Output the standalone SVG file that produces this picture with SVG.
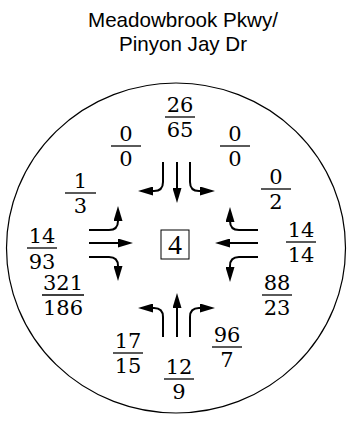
<svg xmlns="http://www.w3.org/2000/svg" width="350" height="425" viewBox="0 0 350 425">
<style>
.title{font-family:"Liberation Sans",Arial,sans-serif;font-size:20.6px;text-anchor:middle;fill:#000}
.num{font-family:"DejaVu Serif","Liberation Serif",serif;font-size:21px;text-anchor:middle;fill:#000}
.big{font-family:"Liberation Serif","Times New Roman",serif;font-size:28px;text-anchor:middle;fill:#000}
.bar{stroke:#000;stroke-width:1.3;fill:none}
.arr{stroke:#000;stroke-width:2;fill:none;marker-end:url(#ah)}
</style>
<defs>
<marker id="ah" viewBox="0 0 15 9" refX="3" refY="4.5" markerWidth="15" markerHeight="9" markerUnits="userSpaceOnUse" orient="auto">
<path d="M0,0 L15,4.5 L0,9 z" fill="#000"/>
</marker>
</defs>
<rect width="350" height="425" fill="#fff"/>
<g id="title">
<text class="title" x="183" y="27">Meadowbrook Pkwy/</text>
<text class="title" x="183" y="51">Pinyon Jay Dr</text>
</g>
<g id="boundary">
<ellipse cx="176" cy="248" rx="169.5" ry="165" fill="none" stroke="#000" stroke-width="1.2"/>
</g>
<g id="center">
<rect x="161" y="230" width="28" height="29" fill="#fff" stroke="#000" stroke-width="1"/>
<text class="big" x="175" y="253.5">4</text>
</g>
<g id="connectors">
<path class="arr" d="M163,162 V182 Q163,191 154,191 H150"/>
<path class="arr" d="M177,162 V191"/>
<path class="arr" d="M190,162 V182 Q190,191 199,191 H203"/>
<path class="arr" d="M163,337 V317 Q163,308 154,308 H150"/>
<path class="arr" d="M177,337 V305"/>
<path class="arr" d="M190,337 V317 Q190,308 199,308 H203"/>
<path class="arr" d="M89,230 H109 Q118,230 118,221 V218"/>
<path class="arr" d="M89,243 H121"/>
<path class="arr" d="M89,257 H109 Q118,257 118,266 V269"/>
<path class="arr" d="M258,230 H239 Q230,230 230,221 V219"/>
<path class="arr" d="M258,243 H227"/>
<path class="arr" d="M258,257 H239 Q230,257 230,266 V270"/>
</g>
<g id="n-26-65"><text class="num" x="180" y="111.5">26</text><line class="bar" x1="165" y1="117" x2="195" y2="117"/><text class="num" x="180" y="137">65</text></g>
<g id="n-0-0-left"><text class="num" x="126" y="140.5">0</text><line class="bar" x1="111" y1="146" x2="141" y2="146"/><text class="num" x="126" y="166">0</text></g>
<g id="n-0-0-right"><text class="num" x="235" y="140.5">0</text><line class="bar" x1="220" y1="146" x2="250" y2="146"/><text class="num" x="235" y="166">0</text></g>
<g id="n-1-3"><text class="num" x="80.5" y="188">1</text><line class="bar" x1="65" y1="193" x2="96" y2="193"/><text class="num" x="80.5" y="213">3</text></g>
<g id="n-0-2"><text class="num" x="276" y="184">0</text><line class="bar" x1="261" y1="189" x2="291" y2="189"/><text class="num" x="276" y="209">2</text></g>
<g id="n-14-93"><text class="num" x="42" y="243">14</text><line class="bar" x1="27" y1="248" x2="57" y2="248"/><text class="num" x="42" y="269">93</text></g>
<g id="n-14-14"><text class="num" x="301" y="236.5">14</text><line class="bar" x1="286" y1="242" x2="316" y2="242"/><text class="num" x="301" y="262">14</text></g>
<g id="n-321-186"><text class="num" x="63" y="290">321</text><line class="bar" x1="42" y1="295" x2="84" y2="295"/><text class="num" x="63" y="315">186</text></g>
<g id="n-88-23"><text class="num" x="277" y="290">88</text><line class="bar" x1="262" y1="295" x2="292" y2="295"/><text class="num" x="277" y="315">23</text></g>
<g id="n-17-15"><text class="num" x="128" y="347.5">17</text><line class="bar" x1="113" y1="353" x2="143" y2="353"/><text class="num" x="128" y="373">15</text></g>
<g id="n-12-9"><text class="num" x="179" y="374">12</text><line class="bar" x1="164" y1="379" x2="194" y2="379"/><text class="num" x="179" y="399">9</text></g>
<g id="n-96-7"><text class="num" x="227" y="342">96</text><line class="bar" x1="212" y1="347" x2="242" y2="347"/><text class="num" x="227" y="367">7</text></g>
</svg>
